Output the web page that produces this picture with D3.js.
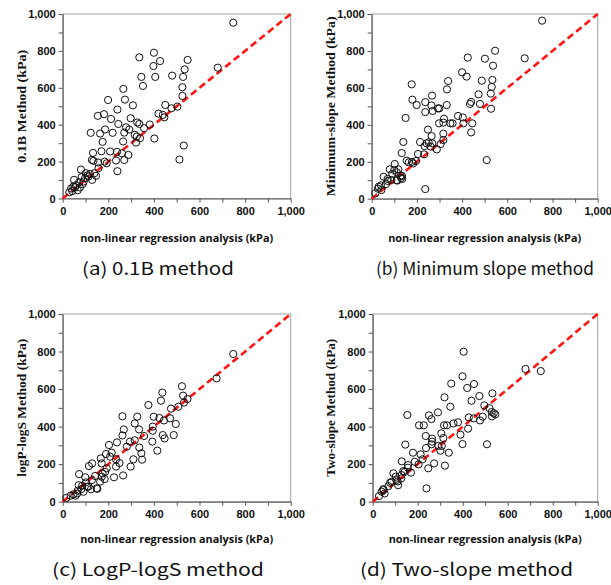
<!DOCTYPE html>
<html>
<head>
<meta charset="utf-8">
<script src="https://cdn.jsdelivr.net/npm/d3@7"></script>
<style>
  body { margin: 0; background: #fff; }
  svg text { fill: #111; }
</style>
</head>
<body>
<div id="chart"></div>
<script>
// Axis values and labels
const axisTicks = d3.range(0, 1001, 100);
const labelTicks = [0, 200, 400, 600, 800, 1000];
const xTitle = 'non-linear regression analysis (kPa)';
const yTitles = ['0.1B Method (kPa)', 'Minimum-slope Method (kPa)', 'logP-logS Method (kPa)', 'Two-slope Method (kPa)'];
const captions = ['(a) 0.1B method', '(b) Minimum slope method', '(c) LogP-logS method', '(d) Two-slope method'];

// [non-linear regression, method] in kPa
const pointsA = [[748,953],[400,790],[336,765],[427,745],[398,718],[548,751],[535,700],[680,709],[345,659],[406,659],
  [480,666],[528,659],[352,610],[525,603],[525,556],[266,594],[199,534],[273,536],[240,482],[308,505],[450,507],
  [503,498],[477,489],[420,460],[439,453],[446,440],[154,448],[181,457],[212,431],[298,435],[327,412],[336,404],
  [382,401],[357,381],[244,404],[278,386],[292,374],[316,345],[325,336],[339,327],[270,357],[186,374],[123,356],
  [219,356],[164,352],[402,325],[322,303],[265,309],[175,307],[208,255],[170,256],[133,247],[260,245],[288,236],
  [270,209],[238,253],[234,206],[512,211],[531,287],[155,195],[193,191],[184,200],[135,204],[240,148],[80,157],
  [102,137],[120,132],[139,137],[146,123],[113,119],[98,110],[129,101],[50,101],[72,88],[88,78],[58,72],[47,65],
  [37,54],[29,34],[54,61],[92,92],[108,125],[83,116],[157,164],[128,209],[66,45],[42,40],[75,60]];

const pointsB = [[754,964],[501,758],[425,764],[546,801],[677,760],[537,720],[400,684],[420,661],[338,637],[333,592],
  [487,639],[534,643],[531,605],[527,569],[473,565],[528,487],[479,513],[435,513],[440,524],[177,619],[180,536],
  [199,507],[237,523],[267,558],[264,505],[270,475],[237,469],[293,489],[299,489],[332,507],[150,437],[320,433],
  [317,412],[298,408],[348,408],[358,408],[382,448],[403,440],[406,408],[445,408],[440,359],[249,374],[265,339],
  [317,352],[317,318],[140,307],[214,307],[243,300],[252,305],[268,300],[288,267],[305,296],[261,282],[234,285],
  [232,240],[205,242],[133,247],[155,206],[164,197],[178,199],[184,191],[196,204],[102,188],[100,155],[80,159],
  [118,159],[134,123],[53,119],[71,96],[87,101],[111,143],[111,101],[130,112],[41,72],[28,54],[43,47],[16,29],
  [509,209],[237,52],[63,79],[31,65],[128,125],[91,134],[113,98],[135,107],[70,107]];

const pointsC = [[748,787],[675,657],[523,615],[437,581],[431,538],[528,565],[532,528],[547,547],[507,506],[475,496],
  [376,515],[262,455],[327,453],[399,453],[424,446],[444,433],[471,444],[496,414],[487,355],[439,355],[447,337],
  [395,400],[395,378],[393,320],[415,272],[268,385],[262,353],[335,385],[316,417],[357,350],[316,327],[295,320],
  [281,293],[336,288],[345,258],[348,224],[310,226],[298,187],[238,316],[203,302],[190,254],[215,261],[167,231],
  [234,226],[249,206],[234,187],[265,140],[225,130],[175,151],[184,121],[164,107],[152,69],[124,66],[129,204],
  [115,190],[72,147],[99,130],[102,103],[107,80],[82,67],[142,137],[85,85],[66,59],[47,39],[35,32],[16,20],
  [56,32],[64,44],[171,204],[208,240],[193,178],[70,88],[113,80],[128,115],[149,71],[171,133],[186,159],[91,53]];

const pointsD = [[404,799],[679,707],[747,696],[399,668],[349,629],[450,627],[420,606],[439,538],[474,563],[532,577],
  [319,556],[345,506],[290,476],[496,513],[519,498],[529,478],[530,455],[538,471],[545,465],[489,453],[427,449],
  [449,444],[477,433],[424,389],[390,357],[399,307],[508,306],[154,462],[250,460],[261,440],[206,407],[227,407],
  [317,407],[330,407],[359,417],[379,423],[236,350],[264,336],[264,320],[261,306],[305,364],[314,339],[145,304],
  [292,297],[301,272],[307,297],[338,261],[321,192],[237,286],[213,252],[179,261],[247,178],[273,204],[129,215],
  [187,213],[170,155],[156,181],[222,226],[239,71],[92,151],[111,108],[77,101],[47,67],[53,44],[28,30],[70,83],
  [102,133],[136,163],[40,53],[127,124],[204,199],[84,106],[106,115],[128,142],[142,159],[157,195],[48,62],[113,88]];

const width = 611;
const height = 585;

const svg = d3.select('#chart').append('svg')
  .attr('width', width)
  .attr('height', height);

// plot boxes in pixels, plus where the titles sit and how long they run
const panels = [
  { data: pointsA, left: 62.7, right: 290.7, top: 14, bottom: 198.5, yLabelX: 23, yLabelLen: 113, xLabelY: 239, capX: 82, capY: 270, capLen: 152 },
  { data: pointsB, left: 371.7, right: 597.7, top: 14, bottom: 198.7, yLabelX: 332, yLabelLen: 180, xLabelY: 239, capX: 376, capY: 270, capLen: 218 },
  { data: pointsC, left: 62.7, right: 290.7, top: 314, bottom: 501.7, yLabelX: 23, yLabelLen: 138, xLabelY: 540, capX: 52, capY: 571, capLen: 212 },
  { data: pointsD, left: 372.7, right: 597.7, top: 314, bottom: 501.7, yLabelX: 332, yLabelLen: 138, xLabelY: 540, capX: 360, capY: 571, capLen: 213 },
];

panels.forEach((p, i) => {
  const x = d3.scaleLinear().domain([0, 1000]).range([p.left, p.right]);
  const y = d3.scaleLinear().domain([0, 1000]).range([p.bottom, p.top]);
  const g = svg.append('g');

  // plot frame
  g.append('rect')
    .attr('x', p.left)
    .attr('y', p.top)
    .attr('width', p.right - p.left)
    .attr('height', p.bottom - p.top)
    .attr('fill', 'none')
    .attr('stroke', '#a0a0a0')
    .attr('stroke-width', 1);

  const fmt = d => (labelTicks.includes(d) ? d3.format(',')(d) : '');

  const xAxis = g.append('g')
    .attr('transform', `translate(0, ${p.bottom})`)
    .call(d3.axisBottom(x).tickValues(axisTicks).tickFormat(fmt).tickSize(4).tickPadding(5).tickSizeOuter(0));
  const yAxis = g.append('g')
    .attr('transform', `translate(${p.left}, 0)`)
    .call(d3.axisLeft(y).tickValues(axisTicks).tickFormat(fmt).tickSize(4).tickPadding(3).tickSizeOuter(0));

  [xAxis, yAxis].forEach(a => {
    a.select('.domain').attr('stroke', '#555');
    a.selectAll('.tick line').attr('stroke', '#555');
    a.selectAll('text')
      .attr('font-family', '"Liberation Sans", Arial, sans-serif')
      .attr('font-weight', 'bold')
      .attr('font-size', 11)
      .attr('fill', '#222');
  });

  // 1:1 line
  g.append('line')
    .attr('x1', x(0)).attr('y1', y(0))
    .attr('x2', x(1000)).attr('y2', y(1000))
    .attr('stroke', '#ff1414')
    .attr('stroke-width', 2.6)
    .attr('stroke-dasharray', '7,4');

  g.append('g')
    .selectAll('circle')
    .data(p.data)
    .enter()
    .append('circle')
    .attr('cx', d => x(d[0]))
    .attr('cy', d => y(d[1]))
    .attr('r', 3.6)
    .attr('fill', 'none')
    .attr('stroke', '#111')
    .attr('stroke-width', 1);

  g.append('text')
    .attr('x', (p.left + p.right) / 2 - 96.5)
    .attr('y', p.xLabelY)
    .attr('dominant-baseline', 'middle')
    .attr('font-family', '"Open Sans", "Noto Sans", sans-serif')
    .attr('font-weight', 'bold')
    .attr('font-size', 10.5)
    .attr('textLength', 193)
    .attr('lengthAdjust', 'spacingAndGlyphs')
    .text(xTitle);

  g.append('text')
    .attr('transform', `translate(${p.yLabelX}, ${(p.top + p.bottom) / 2 + p.yLabelLen / 2}) rotate(-90)`)
    .attr('dominant-baseline', 'middle')
    .attr('font-family', '"Liberation Serif", "Times New Roman", serif')
    .attr('font-weight', 'bold')
    .attr('font-size', 13)
    .attr('textLength', p.yLabelLen)
    .attr('lengthAdjust', 'spacingAndGlyphs')
    .text(yTitles[i]);

  g.append('text')
    .attr('x', p.capX)
    .attr('y', p.capY)
    .attr('dominant-baseline', 'middle')
    .attr('font-family', '"Noto Sans CJK KR", "Noto Sans", sans-serif')
    .attr('font-size', 17.5)
    .attr('textLength', p.capLen)
    .attr('lengthAdjust', 'spacingAndGlyphs')
    .text(captions[i]);
});
</script>
</body>
</html>
